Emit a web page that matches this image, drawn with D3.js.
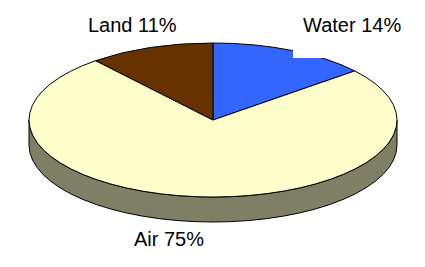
<!DOCTYPE html>
<html>
<head>
<meta charset="utf-8">
<script src="https://cdn.jsdelivr.net/npm/d3@7"></script>
<style>
  body { margin: 0; background: #fff; }
  text { font-family: 'Liberation Sans', Arial, sans-serif; font-size: 20px; fill: #000; }
</style>
</head>
<body>
<div id="chart"></div>
<script>
var categories = ['Water', 'Air', 'Land'];
var values = [14, 75, 11];
var labels = ['Water 14%', 'Air 75%', 'Land 11%'];
var colors = ['#3366ff', '#ffffcc', '#663300'];
var sideColor = '#7f7f66';

var width = 425,
    height = 267,
    cx = 213,
    cy = 120,
    rx = 184,
    ry = 77,
    depth = 25;

var svg = d3.select('#chart').append('svg')
    .attr('width', width)
    .attr('height', height);

var pie = d3.pie()
    .sort(null)
    .value(function (d) { return d; });

var slices = pie(values);

// projection of a pie angle (0 = top, clockwise) onto the tilted ellipse
var px = function (a) { return cx + rx * Math.sin(a); };
var py = function (a) { return cy - ry * Math.cos(a); };

var sidePath = function (a0, a1) {
  var s0 = Math.max(a0, Math.PI / 2),
      s1 = Math.min(a1, Math.PI * 1.5);
  if (s1 <= s0) return null;
  var large = (s1 - s0) > Math.PI ? 1 : 0;
  return 'M' + px(s0) + ',' + py(s0) +
    'A' + rx + ',' + ry + ' 0 ' + large + ' 1 ' + px(s1) + ',' + py(s1) +
    'L' + px(s1) + ',' + (py(s1) + depth) +
    'A' + rx + ',' + ry + ' 0 ' + large + ' 0 ' + px(s0) + ',' + (py(s0) + depth) +
    'Z';
};

// front wall
svg.append('g')
  .selectAll('path')
  .data(slices)
  .enter()
  .append('path')
  .attr('d', function (d) { return sidePath(d.startAngle, d.endAngle); })
  .style('display', function (d) { return sidePath(d.startAngle, d.endAngle) ? null : 'none'; })
  .attr('fill', sideColor)
  .attr('stroke', '#000')
  .attr('stroke-width', 1);

// top face, drawn as a circle arc squashed to an ellipse
var arc = d3.arc()
    .innerRadius(0)
    .outerRadius(rx);

svg.append('g')
  .attr('transform', 'translate(' + cx + ',' + cy + ') scale(1,' + (ry / rx) + ')')
  .selectAll('path')
  .data(slices)
  .enter()
  .append('path')
  .attr('d', arc)
  .attr('fill', function (d, i) { return colors[i]; })
  .attr('stroke', '#000')
  .attr('stroke-width', 1)
  .attr('vector-effect', 'non-scaling-stroke');

// white box left over from the water label in the original
svg.append('rect')
  .attr('x', 293)
  .attr('y', 40)
  .attr('width', 33)
  .attr('height', 18)
  .attr('fill', '#fff');

var labelPos = [[303, 32], [134, 246], [88, 32]];

svg.append('g')
  .selectAll('text')
  .data(labels)
  .enter()
  .append('text')
  .attr('x', function (d, i) { return labelPos[i][0]; })
  .attr('y', function (d, i) { return labelPos[i][1]; })
  .text(function (d) { return d; });
</script>
</body>
</html>
